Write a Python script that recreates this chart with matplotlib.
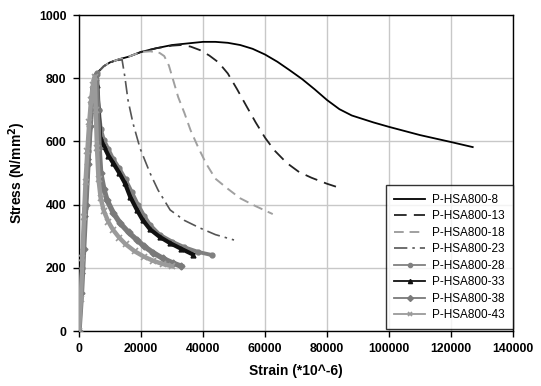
import matplotlib
matplotlib.use("Agg")
import matplotlib.pyplot as plt
from matplotlib.lines import Line2D

plt.rcParams['font.family'] = ['Liberation Sans', 'DejaVu Sans']

# ---- data ----
s8_x = [0, 2000, 4000, 5000, 6000, 8000, 10000, 13000, 16000, 20000, 25000, 30000, 35000, 40000,
        44000, 48000, 52000, 56000, 60000, 64000, 68000, 72000, 76000, 80000, 84000, 88000,
        95000, 100000, 110000, 120000, 127000]
s8_y = [0, 400, 770, 800, 818, 838, 850, 860, 868, 883, 895, 905, 910, 915,
        915, 912, 905, 893, 875, 852, 825, 797, 765, 731, 702, 682,
        660, 646, 620, 598, 582]

s13_x = [0, 2000, 4000, 5000, 6000, 8000, 10000, 13000, 16000, 20000, 25000, 30000, 33000, 36000,
         39000, 42000, 45000, 48000, 51000, 54000, 57000, 60000, 63000, 67000, 71000, 75000, 80000, 85000]
s13_y = [0, 400, 770, 800, 818, 838, 850, 860, 868, 883, 895, 903, 905, 900,
         889, 872, 850, 815, 765, 712, 660, 612, 572, 532, 503, 485, 466, 450]

s18_x = [0, 2000, 4000, 5000, 6000, 8000, 10000, 13000, 16000, 20000, 23000, 26000, 27500, 29000,
         30500, 32000, 34000, 36000, 38500, 41000, 44000, 48000, 52000, 57000, 62500]
s18_y = [0, 400, 770, 800, 818, 838, 850, 860, 868, 883, 885, 880, 870, 840,
         790, 740, 690, 635, 580, 530, 482, 450, 420, 395, 370]

s23_x = [0, 2000, 4000, 5000, 6000, 8000, 10000, 12000, 13900, 14800, 15800, 17400, 19700, 22900,
         25500, 29400, 34000, 39000, 44000, 50000]
s23_y = [0, 400, 770, 800, 818, 838, 850, 856, 858, 804, 731, 658, 578, 500,
         446, 383, 350, 326, 305, 288]

s28_x = [0, 1000, 2000, 3000, 4000, 5000, 5800, 6400, 7000, 8000, 9500, 11000, 13000, 15000, 17000,
         19000, 21000, 23000, 26000, 30000, 34000, 38500, 43000]
s28_y = [0, 200, 390, 570, 720, 800, 815, 700, 640, 605, 575, 545, 515, 480, 440,
         400, 365, 335, 305, 283, 265, 250, 240]

s33_x = [0, 1000, 2000, 3000, 4000, 5000, 5800, 6800, 8000, 9500, 11000, 13000, 14800, 16500, 18700,
         20500, 22900, 26000, 29400, 33000, 36800]
s33_y = [0, 190, 370, 550, 700, 790, 780, 614, 585, 555, 532, 500, 468, 425, 383,
         352, 322, 298, 278, 260, 242]

s38_x = [0, 800, 1500, 2200, 2900, 3600, 4300, 5000, 5600, 6000, 6500, 7000, 8000, 9000, 11000,
         13200, 16000, 18700, 21000, 23900, 27000, 30300, 33000]
s38_y = [0, 120, 260, 400, 530, 650, 740, 795, 810, 700, 580, 500, 450, 415, 375,
         342, 312, 288, 268, 248, 230, 215, 205]

s43_x = [0, 600, 1100, 1600, 2100, 2700, 3300, 3900, 4500, 5100, 5400, 5800, 6300, 7000, 8000,
         9500, 11000, 13000, 15000, 18000, 21000, 24000, 27000, 30000]
s43_y = [0, 100, 230, 360, 470, 570, 660, 730, 780, 805, 700, 580, 480, 420, 380,
         345, 320, 295, 275, 252, 235, 222, 212, 205]

labels = ['P-HSA800-8', 'P-HSA800-13', 'P-HSA800-18', 'P-HSA800-23',
          'P-HSA800-28', 'P-HSA800-33', 'P-HSA800-38', 'P-HSA800-43']
x_ticks = [0, 20000, 40000, 60000, 80000, 100000, 120000, 140000]
y_ticks = [0, 200, 400, 600, 800, 1000]

# ---- figure ----
fig = plt.figure(figsize=(5.41, 3.86), dpi=100)
ax = fig.add_axes([79/541, 1-331/386, 434/541, 316/386])

ax.grid(True, color='#c8c8c8', lw=1.0, zorder=0)
ax.set_axisbelow(True)

styles = [
    dict(color='black', lw=1.3, ls='-'),
    dict(color='#222222', lw=1.3, ls=(0, (7, 4))),
    dict(color='#a0a0a0', lw=1.4, ls=(0, (5, 3))),
    dict(color='#555555', lw=1.2, ls=(0, (8, 3, 1.5, 3))),
]
mstyles = [
    dict(color='#808080', marker='o', ms=3.5, lw=2.8),
    dict(color='#111111', marker='^', ms=3.5, lw=3.0),
    dict(color='#7a7a7a', marker='D', ms=3.5, lw=3.8),
    dict(color='#9a9a9a', marker='x', ms=4.5, mew=1.2, lw=3.2),
]

data = [(s8_x, s8_y), (s13_x, s13_y), (s18_x, s18_y), (s23_x, s23_y),
        (s28_x, s28_y), (s33_x, s33_y), (s38_x, s38_y), (s43_x, s43_y)]

for i, (xs, ys) in enumerate(data):
    if i < 4:
        ax.plot(xs, ys, zorder=3 + i, **styles[i])
    else:
        ax.plot(xs, ys, zorder=3 + i, **mstyles[i - 4])

# legend with thin handles
handles = []
for st in styles:
    handles.append(Line2D([], [], **st))
for st in mstyles:
    d = dict(st)
    d['lw'] = 1.3
    d['ms'] = 3
    handles.append(Line2D([], [], **d))

leg = ax.legend(handles, labels, loc='lower right', bbox_to_anchor=(1.0, 0.005),
                borderaxespad=0, fontsize=8.5, frameon=True, fancybox=False,
                handlelength=2.6, handletextpad=0.6, labelspacing=0.38,
                borderpad=0.7)
leg.get_frame().set_edgecolor('black')
leg.get_frame().set_linewidth(1.0)
leg.set_zorder(20)

ax.set_xlim(0, 140000)
ax.set_ylim(0, 1000)
ax.set_xticks(x_ticks)
ax.set_yticks(y_ticks)
ax.set_xticklabels([str(t) for t in x_ticks], fontweight='bold', fontsize=8.8)
ax.set_yticklabels([str(t) for t in y_ticks], fontweight='bold', fontsize=8.8)
ax.tick_params(direction='out', length=4, width=1, color='black', pad=5)

for sp in ax.spines.values():
    sp.set_color('black')
    sp.set_linewidth(1.0)

ax.set_xlabel('Strain (*10^-6)', fontweight='bold', fontsize=10)
ax.set_ylabel('Stress (N/mm$^\\mathbf{2}$)', fontweight='bold', fontsize=10)
ax.xaxis.set_label_coords(0.5, -0.105)
ax.yaxis.set_label_coords(-0.118, 0.5)

fig.savefig('out.png', dpi=100)
